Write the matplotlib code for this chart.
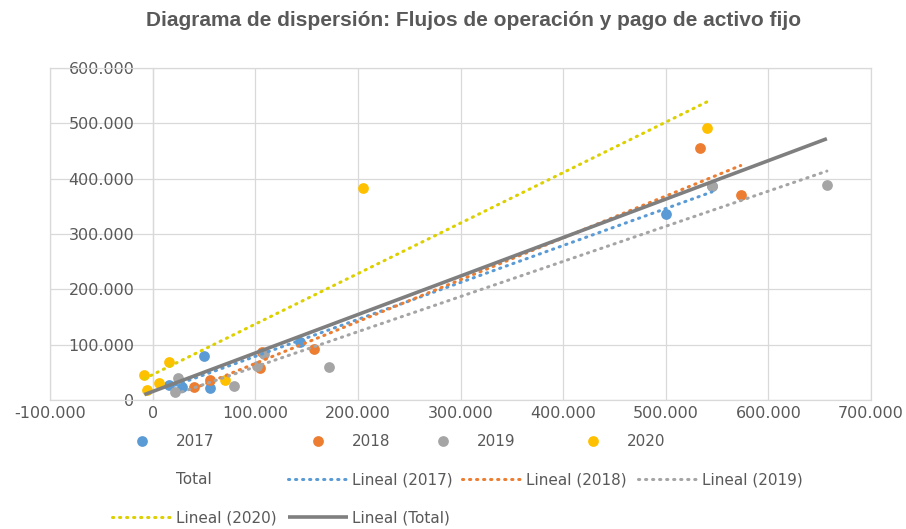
import numpy as np
import matplotlib
matplotlib.use("Agg")
import matplotlib.pyplot as plt
from matplotlib.ticker import FuncFormatter, MultipleLocator

# ---- data (values in units) ----
x2017 = [16000, 29000, 50000, 56000, 144000, 500000, 545000]
y2017 = [27000, 24000, 79000, 22000, 105000, 336000, 386000]

x2018 = [40000, 56000, 105000, 107000, 157000, 533000, 573000]
y2018 = [23000, 36000, 58000, 87000, 92000, 455000, 370000]

x2019 = [22000, 25000, 79000, 102000, 109000, 172000, 545000, 657000]
y2019 = [14000, 40000, 25000, 62000, 83000, 60000, 386000, 388000]

x2020 = [-8000, -5000, 6000, 16000, 71000, 205000, 540000]
y2020 = [45000, 18000, 31000, 69000, 36000, 384000, 491000]

series_names = ["2017", "2018", "2019", "2020"]
series_colors = ["#5B9BD5", "#ED7D31", "#A5A5A5", "#FFC000"]
trend_colors = ["#5B9BD5", "#ED7D31", "#A5A5A5", "#DDD000"]

title = "Diagrama de dispersión: Flujos de operación y pago de activo fijo"

W, H = 906, 529
fig = plt.figure(figsize=(W / 100, H / 100), dpi=100)
ax = fig.add_axes([50 / W, 1 - 400 / H, (871 - 50) / W, (400 - 68) / H])

xs = [x2017, x2018, x2019, x2020]
ys = [y2017, y2018, y2019, y2020]
grid_c = "#D9D9D9"
text_c = "#595959"

scat_handles = []
for x, y, c, n in zip(xs, ys, series_colors, series_names):
    h = ax.scatter(x, y, s=60, color=c, zorder=3, label=n, linewidths=0)
    scat_handles.append(h)

all_x = np.concatenate([np.asarray(v, float) for v in xs])
all_y = np.concatenate([np.asarray(v, float) for v in ys])
total_handle, = ax.plot(all_x, all_y, linestyle="", marker="", label="Total")

trend_handles = []
for x, y, c, n in zip(xs, ys, trend_colors, series_names):
    x = np.asarray(x, float)
    y = np.asarray(y, float)
    m, b = np.polyfit(x, y, 1)
    xx = np.array([x.min(), x.max()])
    h, = ax.plot(xx, m * xx + b, color=c, lw=2.2, linestyle=(0, (0.4, 1.9)),
                 dash_capstyle="round", zorder=4, label=f"Lineal ({n})")
    trend_handles.append(h)

m, b = np.polyfit(all_x, all_y, 1)
xx = np.array([all_x.min(), all_x.max()])
tot_trend, = ax.plot(xx, m * xx + b, color="#7F7F7F", lw=2.6, zorder=5,
                     solid_capstyle="butt", label="Lineal (Total)")

ax.set_xlim(-100000, 700000)
ax.set_ylim(0, 600000)
ax.xaxis.set_major_locator(MultipleLocator(100000))
ax.yaxis.set_major_locator(MultipleLocator(100000))
fmt = FuncFormatter(lambda v, p: f"{int(round(v)):,}".replace(",", "."))
ax.xaxis.set_major_formatter(fmt)
ax.yaxis.set_major_formatter(fmt)
ax.grid(True, color=grid_c, lw=0.9, zorder=0)
ax.set_axisbelow(True)
for s in ax.spines.values():
    s.set_color(grid_c)
    s.set_linewidth(0.9)
ax.spines["left"].set_position(("data", 0))
ax.tick_params(axis="both", length=0, labelsize=11.5, colors=text_c)
ax.tick_params(axis="y", pad=13)
ax.tick_params(axis="x", pad=4)
ax.plot([-100000, -100000], [0, 600000], color=grid_c, lw=0.9, zorder=1, clip_on=False)

fig.text(474 / W, 1 - 21 / H, title, ha="center", va="center",
         fontsize=15, fontweight="bold", color=text_c, family="Liberation Sans")

entries = [
    (scat_handles[0], "2017", 112, 441),
    (scat_handles[1], "2018", 288, 441),
    (scat_handles[2], "2019", 413, 441),
    (scat_handles[3], "2020", 563, 441),
    (total_handle, "Total", 112, 480),
    (trend_handles[0], "Lineal (2017)", 288, 480),
    (trend_handles[1], "Lineal (2018)", 462, 480),
    (trend_handles[2], "Lineal (2019)", 638, 480),
    (trend_handles[3], "Lineal (2020)", 112, 518),
    (tot_trend, "Lineal (Total)", 288, 518),
]
for h, lab, px, py in entries:
    fig.legend(handles=[h], labels=[lab], loc="center left",
               bbox_to_anchor=(px / W, 1 - py / H), bbox_transform=fig.transFigure,
               frameon=False, borderpad=0, borderaxespad=0, handlelength=3.9,
               handletextpad=0.3, fontsize=11, labelcolor=text_c, scatterpoints=1)

fig.savefig("out.png", dpi=100)
